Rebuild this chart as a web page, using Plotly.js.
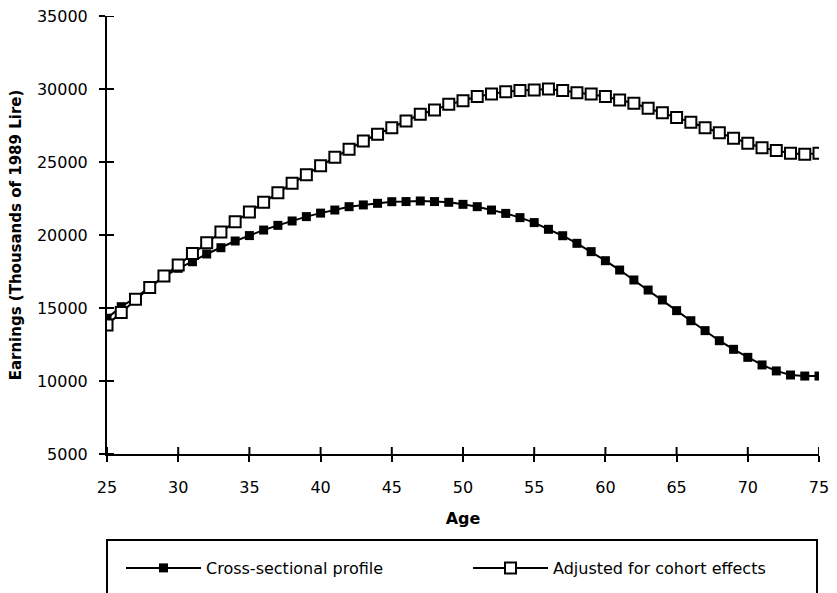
<!DOCTYPE html>
<html>
<head>
<meta charset="utf-8">
<script src="https://cdn.plot.ly/plotly-3.0.1.min.js"></script>
<style>html,body{margin:0;padding:0;background:#fff;}#chart{width:837px;height:593px;}</style>
</head>
<body>
<div id="chart"></div>
<script>
const ages = [25,26,27,28,29,30,31,32,33,34,35,36,37,38,39,40,41,42,43,44,45,46,47,48,49,50,51,52,53,54,55,56,57,58,59,60,61,62,63,64,65,66,67,68,69,70,71,72,73,74,75];
const crossSectional = [14300,15090,15700,16400,17150,17720,18170,18700,19130,19590,19960,20340,20660,20960,21260,21500,21710,21940,22060,22170,22280,22290,22330,22290,22240,22100,21940,21710,21480,21190,20850,20390,19950,19430,18860,18240,17600,16920,16230,15550,14820,14130,13450,12760,12170,11620,11100,10690,10410,10340,10340];
const cohortAdjusted = [13840,14700,15600,16400,17190,17950,18740,19470,20200,20910,21580,22240,22900,23540,24130,24740,25320,25870,26440,26900,27350,27810,28270,28560,28950,29200,29480,29660,29820,29890,29930,30000,29890,29750,29660,29480,29250,29020,28680,28380,28040,27720,27350,27010,26620,26280,25980,25780,25600,25530,25600];
const seriesNames = ["Cross-sectional profile", "Adjusted for cohort effects"];
const xTicks = [25,30,35,40,45,50,55,60,65,70,75];
const yTicks = [5000,10000,15000,20000,25000,30000,35000];
const yTickLabels = ["5000","10000","15000","20000","25000","30000","35000"];

const FONT = "DejaVu Sans, sans-serif";
const W = 837, H = 593, ML = 107, MR = 18, MT = 16, MB = 139;
const plotW = W - ML - MR, plotH = H - MT - MB;
const inTick = 7;

const traces = [
  {
    x: ages, y: crossSectional, name: seriesNames[0], type: "scatter", mode: "lines+markers",
    line: {color: "#000", width: 2},
    marker: {symbol: "square", size: 9, color: "#000"}
  },
  {
    x: ages, y: cohortAdjusted, name: seriesNames[1], type: "scatter", mode: "lines+markers",
    line: {color: "#000", width: 2},
    marker: {symbol: "square", size: 11, color: "#fff", line: {color: "#000", width: 2}}
  }
];

const axBase = {
  showgrid: false, zeroline: false, showline: true, linecolor: "#000", linewidth: 2,
  tickcolor: "#000", tickwidth: 2, ticklen: 6, ticks: "outside"
};

// inner halves of the crossing tick marks, placed by the axes' own scales
const tickShapes = [];
xTicks.forEach(v => tickShapes.push({type: "line", xref: "x", yref: "paper", x0: v, x1: v, y0: 0, y1: inTick / plotH,
  line: {color: "#000", width: 2}, layer: "above"}));
yTicks.forEach(v => tickShapes.push({type: "line", xref: "paper", yref: "y", x0: 0, x1: inTick / plotW, y0: v, y1: v,
  line: {color: "#000", width: 2}, layer: "above"}));

const legendBox = {type: "rect", xref: "paper", yref: "paper", x0: 0, x1: 710 / plotW, y0: -86 / plotH, y1: -180 / plotH,
  line: {color: "#000", width: 2}, fillcolor: "rgba(0,0,0,0)"};

const layout = {
  width: W, height: H,
  margin: {l: ML, r: MR, t: MT, b: MB},
  paper_bgcolor: "#fff", plot_bgcolor: "#fff",
  font: {family: FONT, size: 16, color: "#000"},
  showlegend: true,
  legend: {
    orientation: "h", xref: "container", yref: "container",
    x: 121 / W, xanchor: "left", y: 1 - 551 / H, yanchor: "top",
    font: {family: FONT, size: 16, color: "#000"},
    itemwidth: 75, entrywidth: 257, entrywidthmode: "pixels",
    bgcolor: "rgba(0,0,0,0)", borderwidth: 0
  },
  xaxis: Object.assign({}, axBase, {
    range: [25, 75], tickvals: xTicks,
    ticklabelstandoff: 12,
    title: {text: "Age", font: {family: FONT, size: 16, color: "#000", weight: "bold"}, standoff: 17}
  }),
  yaxis: Object.assign({}, axBase, {
    range: [5000, 35000], tickvals: yTicks, ticktext: yTickLabels,
    ticklabelstandoff: 8,
    title: {text: "Earnings (Thousands of 1989 Lire)", font: {family: FONT, size: 15, color: "#000", weight: "bold"}, standoff: 12}
  }),
  shapes: tickShapes.concat([legendBox])
};

Plotly.newPlot("chart", traces, layout, {displayModeBar: false, staticPlot: true});
</script>
</body>
</html>
